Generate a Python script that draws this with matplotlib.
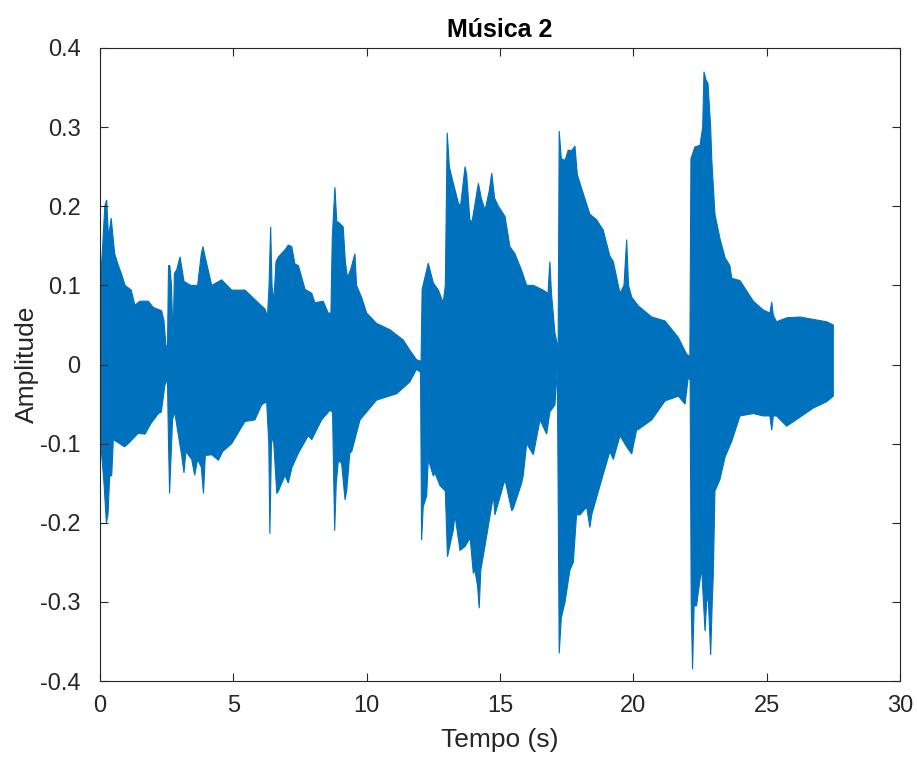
import numpy as np
import matplotlib
matplotlib.use("Agg")
import matplotlib.pyplot as plt
from matplotlib.ticker import FuncFormatter

plt.rcParams['font.family'] = ['Liberation Sans', 'DejaVu Sans']
plt.rcParams['axes.unicode_minus'] = False

# Upper envelope of the waveform (time s, amplitude)
t_up = [0.00, 0.10, 0.18, 0.25, 0.32, 0.42, 0.55, 0.69, 0.80, 0.94, 1.17, 1.31, 1.50, 1.81, 2.00,
        2.31, 2.40, 2.47, 2.53, 2.57, 2.62, 2.68, 2.74, 2.79, 2.88, 3.00, 3.08, 3.15, 3.40, 3.66,
        3.80, 3.86, 3.95, 4.19, 4.56, 4.94, 5.44, 5.81, 6.06, 6.19, 6.28, 6.34, 6.40, 6.45, 6.52,
        6.60, 6.69, 6.94, 7.06, 7.19, 7.31, 7.44, 7.69, 7.94, 8.06, 8.37, 8.56, 8.66, 8.71, 8.81,
        8.88, 8.94, 9.12, 9.20, 9.28, 9.40, 9.56, 9.62, 9.81, 10.0, 10.37, 10.87, 11.37, 11.62, 11.87,
        12.04, 12.08, 12.31, 12.50, 12.69, 12.87, 12.95, 13.02, 13.10, 13.19, 13.44, 13.52, 13.69, 13.75,
        13.87, 13.95, 14.19, 14.30, 14.44, 14.60, 14.69, 14.80, 14.94, 15.19, 15.37, 15.56, 15.81, 16.00,
        16.25, 16.62, 16.80, 16.87, 16.93, 17.06, 17.18, 17.22, 17.30, 17.44, 17.56, 17.68, 17.81, 17.90,
        18.00, 18.37, 18.62, 18.87, 19.12, 19.25, 19.50, 19.65, 19.75, 19.82, 19.94, 20.19, 20.69, 21.19,
        21.69, 22.00, 22.12, 22.16, 22.31, 22.50, 22.60, 22.65, 22.72, 22.80, 22.90, 22.94, 23.06, 23.25,
        23.44, 23.62, 23.69, 24.00, 24.50, 24.87, 25.12, 25.19, 25.25, 25.37, 25.75, 26.25, 26.75, 27.25,
        27.50]
a_up = [0.095, 0.15, 0.20, 0.208, 0.16, 0.185, 0.14, 0.125, 0.115, 0.10, 0.094, 0.075, 0.08, 0.08, 0.072,
        0.068, 0.055, 0.025, 0.02, 0.125, 0.125, 0.10, 0.03, 0.115, 0.12, 0.136, 0.12, 0.105, 0.10, 0.10,
        0.14, 0.149, 0.135, 0.10, 0.107, 0.094, 0.094, 0.082, 0.074, 0.07, 0.06, 0.10, 0.174, 0.10, 0.08,
        0.13, 0.136, 0.145, 0.151, 0.149, 0.127, 0.125, 0.095, 0.09, 0.078, 0.08, 0.065, 0.065, 0.16, 0.224,
        0.18, 0.18, 0.174, 0.13, 0.11, 0.12, 0.14, 0.10, 0.085, 0.065, 0.052, 0.044, 0.031, 0.018, 0.006,
        0.004, 0.095, 0.128, 0.103, 0.094, 0.078, 0.10, 0.293, 0.25, 0.237, 0.204, 0.20, 0.25, 0.24,
        0.183, 0.18, 0.229, 0.21, 0.195, 0.22, 0.242, 0.21, 0.20, 0.187, 0.149, 0.14, 0.119, 0.10,
        0.10, 0.094, 0.09, 0.13, 0.09, 0.04, 0.02, 0.295, 0.26, 0.258, 0.271, 0.27, 0.276, 0.24,
        0.229, 0.19, 0.183, 0.17, 0.137, 0.13, 0.09, 0.10, 0.158, 0.10, 0.085, 0.074, 0.06, 0.055,
        0.034, 0.013, 0.01, 0.26, 0.275, 0.277, 0.30, 0.37, 0.36, 0.355, 0.30, 0.26, 0.19, 0.159,
        0.135, 0.125, 0.109, 0.106, 0.08, 0.069, 0.065, 0.079, 0.062, 0.054, 0.059, 0.06, 0.057, 0.054,
        0.05]

# Lower envelope of the waveform (time s, amplitude)
t_lo = [0.00, 0.15, 0.24, 0.30, 0.36, 0.44, 0.50, 0.69, 0.92, 1.06, 1.43, 1.69, 1.92, 2.19, 2.30,
        2.44, 2.53, 2.57, 2.61, 2.66, 2.72, 2.80, 2.99, 3.06, 3.15, 3.22, 3.44, 3.55, 3.66, 3.80,
        3.88, 3.95, 4.19, 4.44, 4.60, 4.94, 5.31, 5.44, 5.81, 6.06, 6.25, 6.33, 6.37, 6.43, 6.50,
        6.63, 6.69, 6.94, 7.06, 7.20, 7.44, 7.81, 7.94, 8.31, 8.62, 8.72, 8.80, 8.86, 8.94, 9.06,
        9.19, 9.25, 9.37, 9.44, 9.75, 10.0, 10.37, 11.12, 11.62, 11.87, 12.02, 12.06, 12.12, 12.25, 12.31,
        12.50, 12.56, 12.75, 12.95, 13.03, 13.25, 13.31, 13.50, 13.69, 13.88, 14.00, 14.06, 14.16, 14.22,
        14.28, 14.44, 14.75, 14.81, 15.12, 15.19, 15.44, 15.50, 15.81, 15.87, 16.00, 16.25, 16.50, 16.75,
        16.87, 17.06, 17.15, 17.22, 17.30, 17.44, 17.62, 17.75, 17.87, 18.00, 18.25, 18.37, 18.44, 18.75,
        19.12, 19.25, 19.50, 19.75, 19.94, 20.12, 20.19, 20.69, 21.19, 21.69, 21.94, 22.06, 22.13, 22.17,
        22.22, 22.28, 22.37, 22.56, 22.69, 22.75, 22.81, 22.90, 22.96, 23.00, 23.06, 23.25, 23.44, 23.69,
        24.00, 24.50, 24.87, 25.12, 25.19, 25.25, 25.37, 25.75, 26.10, 26.75, 27.25, 27.50]
a_lo = [-0.088, -0.15, -0.20, -0.19, -0.142, -0.14, -0.095, -0.099, -0.104, -0.10, -0.087, -0.088, -0.074, -0.062, -0.06,
        -0.025, -0.02, -0.10, -0.163, -0.12, -0.07, -0.06, -0.10, -0.114, -0.137, -0.11, -0.12, -0.14, -0.12, -0.13,
        -0.163, -0.115, -0.114, -0.121, -0.11, -0.10, -0.079, -0.072, -0.07, -0.051, -0.047, -0.10, -0.214, -0.10, -0.09,
        -0.163, -0.16, -0.14, -0.15, -0.13, -0.112, -0.09, -0.095, -0.07, -0.058, -0.06, -0.21, -0.15, -0.121, -0.125,
        -0.171, -0.16, -0.112, -0.11, -0.07, -0.06, -0.045, -0.037, -0.022, -0.006, -0.01, -0.222, -0.18, -0.166, -0.12,
        -0.141, -0.137, -0.153, -0.16, -0.243, -0.209, -0.19, -0.235, -0.23, -0.219, -0.264, -0.26, -0.28, -0.308,
        -0.26, -0.229, -0.166, -0.19, -0.153, -0.146, -0.185, -0.182, -0.15, -0.141, -0.10, -0.114, -0.07, -0.088,
        -0.06, -0.051, -0.005, -0.365, -0.32, -0.30, -0.26, -0.25, -0.19, -0.19, -0.18, -0.206, -0.19, -0.153,
        -0.11, -0.12, -0.09, -0.104, -0.113, -0.083, -0.082, -0.07, -0.046, -0.04, -0.05, -0.016, -0.02, -0.302,
        -0.385, -0.305, -0.305, -0.257, -0.337, -0.30, -0.295, -0.367, -0.30, -0.265, -0.16, -0.145, -0.117, -0.097,
        -0.065, -0.062, -0.065, -0.065, -0.083, -0.065, -0.065, -0.078, -0.07, -0.055, -0.047, -0.04]

x_ticks = [0, 5, 10, 15, 20, 25, 30]
y_ticks = [-0.4, -0.3, -0.2, -0.1, 0, 0.1, 0.2, 0.3, 0.4]

color = '#0072BD'
axis_color = '#262626'

fig = plt.figure(figsize=(9.17, 7.58), dpi=100)
ax = fig.add_axes([100/917, 1 - 681/758, 800/917, (681-48)/758])

poly_x = np.concatenate([t_up, t_lo[::-1]])
poly_y = np.concatenate([a_up, a_lo[::-1]])
ax.fill(poly_x, poly_y, color=color, linewidth=0.8, edgecolor=color, joinstyle='miter')

ax.set_xlim(0, 30)
ax.set_ylim(-0.4, 0.4)
ax.set_xticks(x_ticks)
ax.set_yticks(y_ticks)
ax.yaxis.set_major_formatter(FuncFormatter(lambda v, p: '%g' % round(v, 2)))
ax.tick_params(direction='in', length=5.5, width=0.8, top=True, right=True,
               labelsize=17, colors=axis_color)
ax.tick_params(axis='x', pad=10)
ax.tick_params(axis='y', pad=14)
for s in ax.spines.values():
    s.set_color(axis_color)
    s.set_linewidth(0.8)

ax.set_xlabel('Tempo (s)', fontsize=19, color=axis_color, labelpad=8)
ax.set_ylabel('Amplitude', fontsize=19, color=axis_color, labelpad=1)
ax.set_title('Música 2', fontsize=18, fontweight='bold', color='black', pad=8)

fig.savefig('out.png', dpi=100)
